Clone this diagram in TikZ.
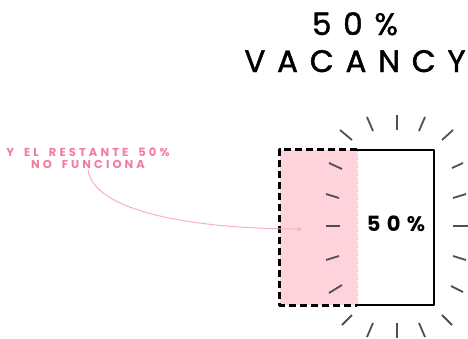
\documentclass[tikz,border=0pt]{standalone}
\usepackage{fontspec}
\setmainfont{Poppins}
\newfontfamily\headfont[FakeBold=1.4, LetterSpace=38]{Poppins}
\newfontfamily\notefont[LetterSpace=27, WordSpace=1.8]{Poppins}
\definecolor{vacpink}{HTML}{FFD3DB}
\definecolor{notepink}{HTML}{F27C9B}
\definecolor{arrowpink}{HTML}{F6B0C1}
\definecolor{raygray}{HTML}{505050}
\tikzset{
  headline/.style={anchor=base, inner sep=0pt, font=\fontsize{31}{31}\headfont},
  note/.style={anchor=north, inner sep=0pt, align=center, text=notepink, font=\fontsize{11.5}{12}\notefont\bfseries},
  halfbox/.style={minimum width=77pt, minimum height=155pt, inner sep=0pt},
  ray/.style={raygray, line width=1.8pt},
  pointer/.style={arrowpink, line width=1pt, -stealth}
}
\begin{document}
\begin{tikzpicture}[x=1pt, y=-1pt, line join=round]
  \useasboundingbox (0,0) rectangle (468,338);
  % title
  \node[headline] (pct) at (355,35) {50\%};
  \node[headline] (vac) at (355,72) {VACANCY};
  % the two halves
  \node[halfbox, fill=vacpink] (empty) at (318.5,227.5) {};
  \node[halfbox] (full) at (395.5,227.5) {};
  \draw[vacpink!70!red!60, densely dotted, line width=0.6pt] (empty.north east) -- (empty.south east);
  \draw[line width=3pt, dash pattern=on 7pt off 4pt] (empty.north east) -- (empty.north west) -- (empty.south west) -- (empty.south east);
  \draw[line width=2.5pt] (full.north west) -- (full.north east) -- (full.south east) -- (full.south west);
  \node[font=\fontsize{21}{21}\selectfont\bfseries\addfontfeature{LetterSpace=30}] (share) at (396,223.5) {50\%};
  % rays
  \foreach \xa/\ya/\xb/\yb in {340/130/352/140, 367/117/373/131, 397/115/397/130, 425/117/419/131, 453/130/442/140,
      452/168/463/163, 453/198/466/194, 453/226/468/226, 453/256/466/260, 451/286/463/292,
      442/315/452/325, 419/323/425/337, 397/323/397/338, 373/323/367/337, 352/315/342/325,
      329/163/342/169, 326/194/339/198, 326/226/340/226, 326/260/339/256, 329/293/342/285}
    \draw[ray] (\xa,\ya) -- (\xb,\yb);
  % note and pointer
  \node[note] (rest) at (88,148) {Y EL RESTANTE 50\%\\NO FUNCIONA};
  \coordinate (tip) at (302,229);
  \draw[pointer] (rest.south) .. controls +(4,42) and +(-110,0) .. (tip);
\end{tikzpicture}
\end{document}
